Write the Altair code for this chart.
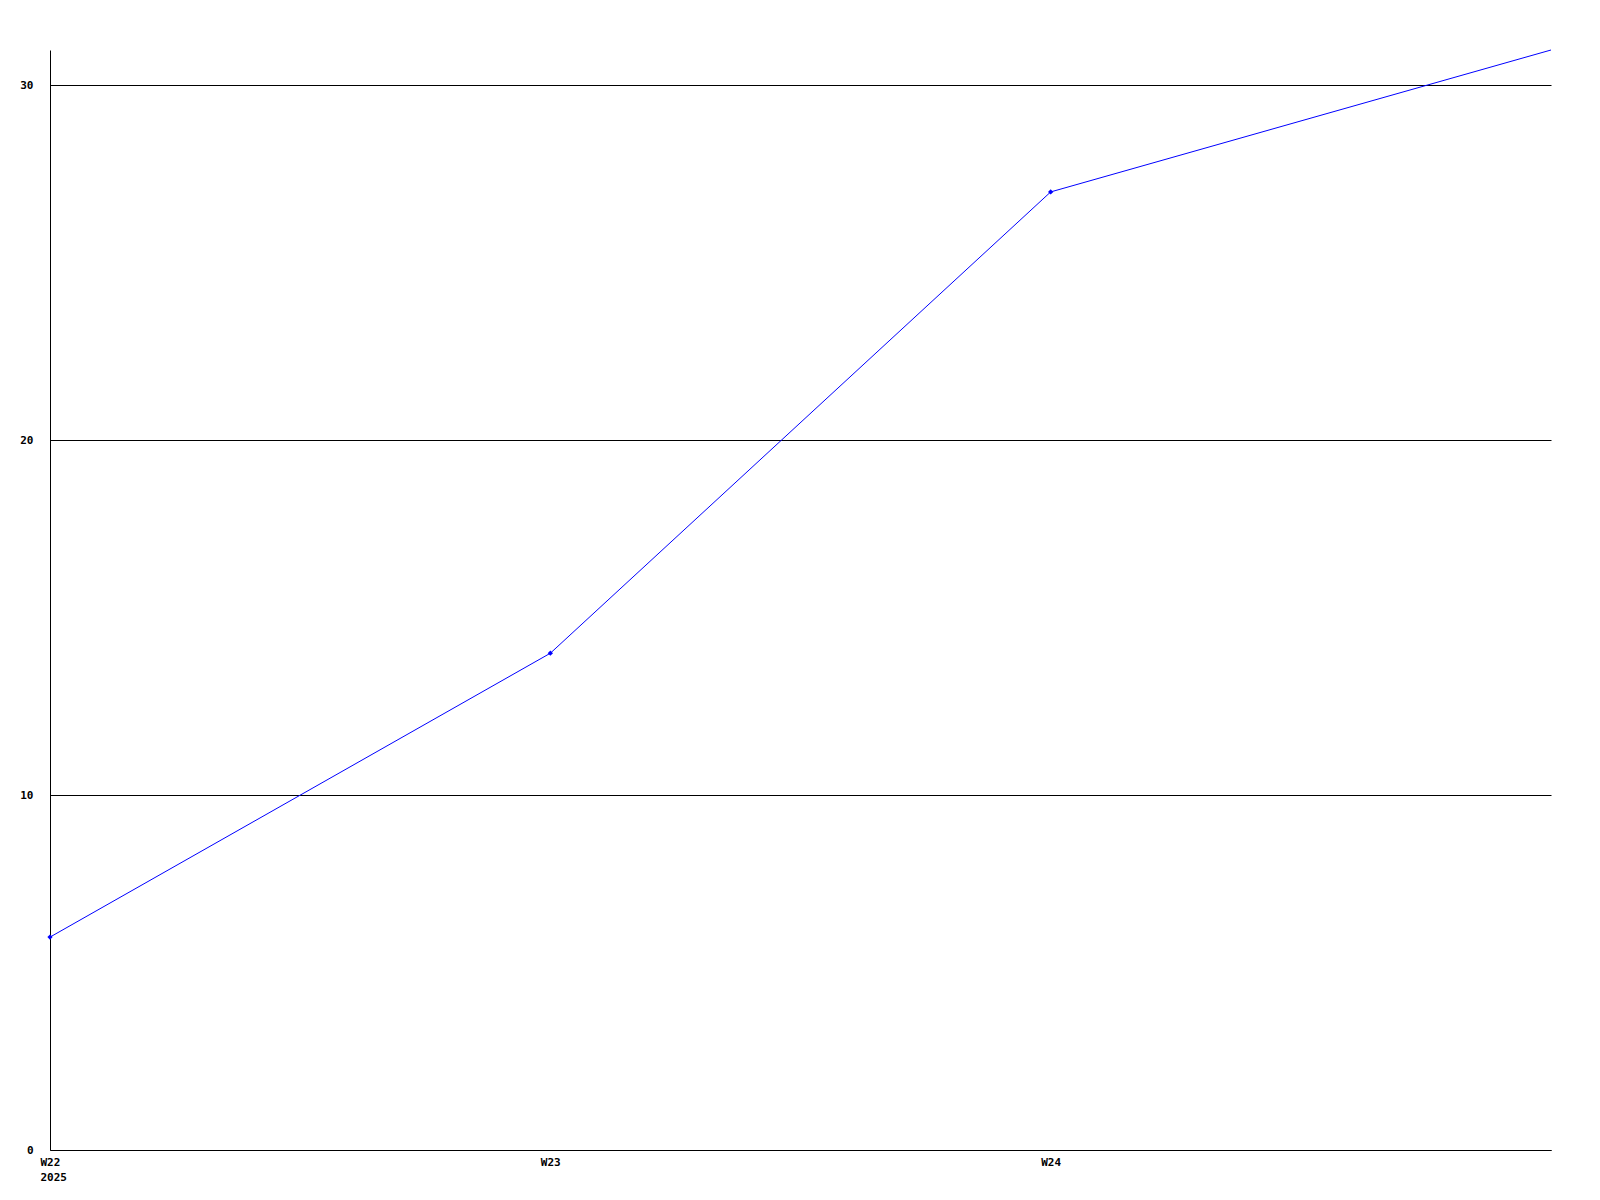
import altair as alt
import pandas as pd

weeks = ["W22", "W23", "W24", "W25"]
values = [6, 14, 27, 31]
marked = [True, True, True, False]
x_tick_weeks = ["W22", "W23", "W24"]
y_ticks = [0, 10, 20, 30]

df = pd.DataFrame({"week": weeks, "value": values, "marked": marked})

FONT = "DejaVu Sans Mono"

x = alt.X(
    "week:N",
    sort=weeks,
    scale=alt.Scale(type="point", padding=0),
    axis=alt.Axis(
        title=None,
        values=x_tick_weeks,
        labelExpr="datum.value == 'W22' ? ['W22', '2025'] : datum.value",
        labelAngle=0,
        labelAlign="left",
        labelOffset=-10,
        labelBaseline="top",
        labelPadding=6,
        labelLineHeight=15,
        ticks=False,
        domainColor="black",
        domainWidth=1,
        labelFont=FONT,
        labelFontWeight="bold",
        labelFontSize=11,
        labelColor="black",
        grid=False,
    ),
)
y = alt.Y(
    "value:Q",
    scale=alt.Scale(domain=[0, 31], nice=False, zero=True),
    axis=alt.Axis(
        title=None,
        values=y_ticks,
        ticks=False,
        labelPadding=17,
        domainColor="black",
        grid=True,
        gridColor="black",
        gridWidth=1,
        gridOpacity=1,
        labelFont=FONT,
        labelFontWeight="bold",
        labelFontSize=11,
        labelColor="black",
    ),
)

base = alt.Chart(df)
line = base.mark_line(color="#0000ff", strokeWidth=1).encode(x=x, y=y)
pts = base.transform_filter("datum.marked").mark_point(
    shape="diamond", filled=True, color="#0000ff", size=28, opacity=1
).encode(x=x, y=y)

chart = (
    alt.layer(line, pts)
    .properties(
        width=1501,
        height=1100,
        autosize=alt.AutoSizeParams(type="none"),
        padding={"left": 42, "top": 42, "right": 10, "bottom": 40},
        background="white",
    )
    .configure_view(stroke="transparent", strokeWidth=0)
)

chart.save("out.html", embed_options={"renderer": "svg", "actions": False})
